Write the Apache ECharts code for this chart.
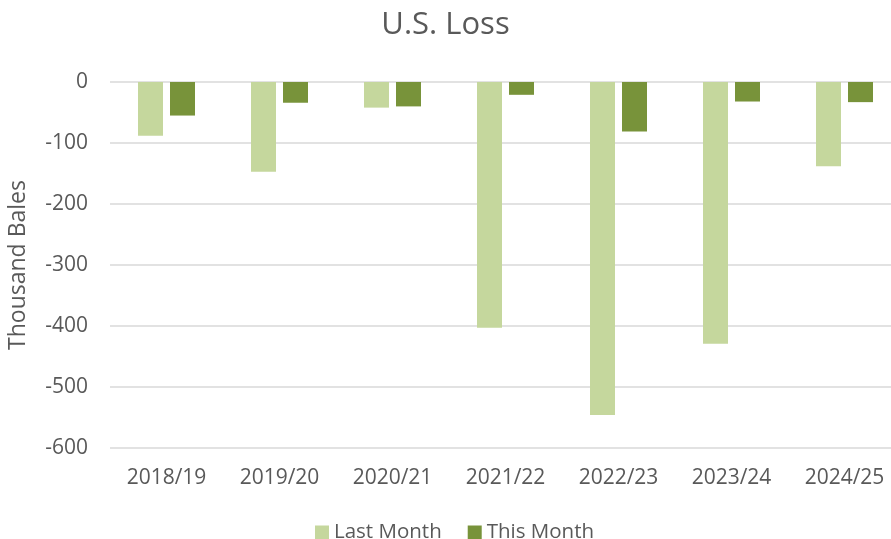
<!DOCTYPE html>
<html><head><meta charset="utf-8">
<script src="https://cdn.jsdelivr.net/npm/echarts@6/dist/echarts.min.js"></script>
<style>html,body{margin:0;padding:0;background:#fff}#c{width:891px;height:539px}</style>
</head><body><div id="c"></div>
<script>
const categories = ['2018/19','2019/20','2020/21','2021/22','2022/23','2023/24','2024/25'];
const lastMonth = [-88, -147, -42, -403, -546, -429, -138];
const thisMonth = [-55, -34, -40, -21, -81, -32, -33];
const yTicks = {min: -600, max: 0, interval: 100};

const chart = echarts.init(document.getElementById('c'), null, {renderer: 'canvas'});
const font = 'Open Sans';
chart.setOption({
  animation: false,
  title: {text: 'U.S. Loss', left: 'center', top: 5,
    textStyle: {fontFamily: font, fontSize: 31, fontWeight: 'normal', color: '#595959'}},
  legend: {top: 517, left: 310, itemWidth: 14, itemHeight: 14, itemGap: 26,
    icon: 'rect', textStyle: {fontFamily: font, fontSize: 20.5, color: '#595959'}},
  grid: {left: 110, width: 791, top: 82, height: 366, containLabel: false, outerBoundsMode: 'none'},
  xAxis: {type: 'category', data: categories, position: 'bottom',
    axisLine: {show: false}, axisTick: {show: false},
    axisLabel: {fontFamily: font, fontSize: 21, color: '#595959', margin: 20}},
  yAxis: {type: 'value', min: yTicks.min, max: yTicks.max, interval: yTicks.interval,
    name: 'Thousand Bales', nameLocation: 'middle', nameGap: 80, nameRotate: 90,
    nameTextStyle: {fontFamily: font, fontSize: 23, color: '#595959'},
    axisLine: {show: false}, axisTick: {show: false},
    axisLabel: {fontFamily: font, fontSize: 21, color: '#595959', margin: 22},
    splitLine: {lineStyle: {color: '#d9d9d9', width: 1.5}}},
  series: [
    {name: 'Last Month', type: 'bar', data: lastMonth, barWidth: 25, barGap: '28%',
     itemStyle: {color: '#c5d79d'}},
    {name: 'This Month', type: 'bar', data: thisMonth, barWidth: 25,
     itemStyle: {color: '#78933a'}}
  ]
});
</script></body></html>
